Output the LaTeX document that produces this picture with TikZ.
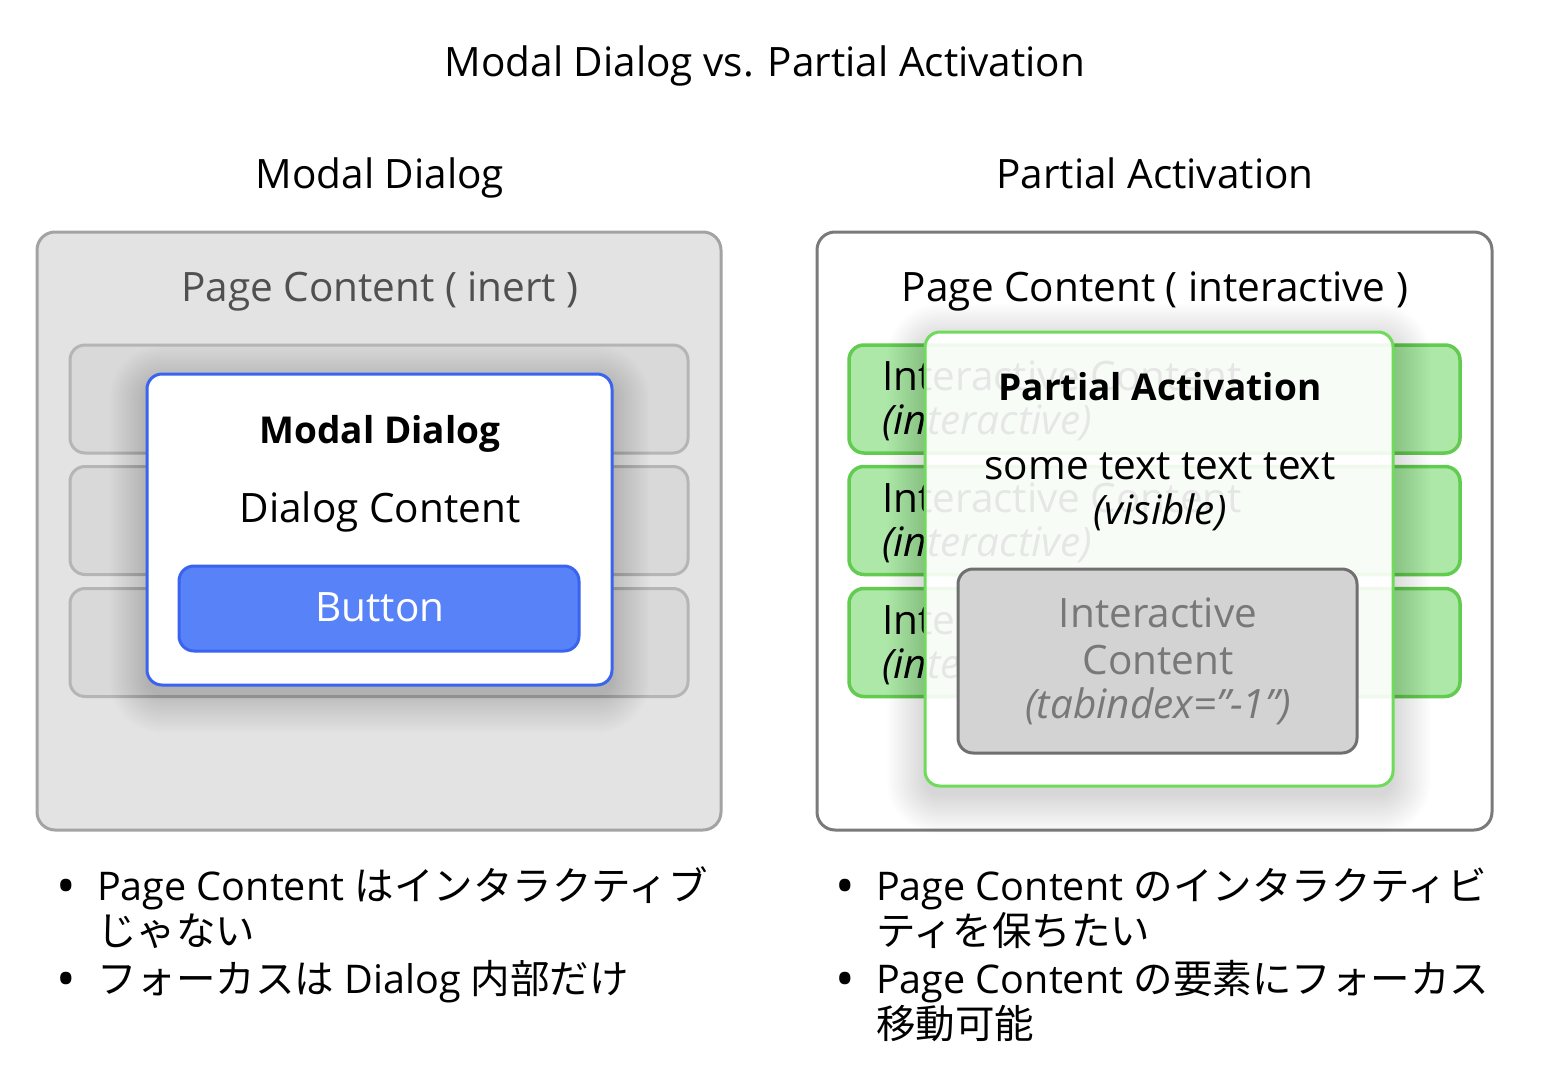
\documentclass[tikz,border=0pt]{standalone}
\usepackage{fontspec}
\setmainfont{Open Sans}
\newfontfamily\jp{Noto Sans CJK JP}
\definecolor{inertfill}{HTML}{E3E3E3}
\definecolor{inertline}{HTML}{A3A3A3}
\definecolor{rowfill}{HTML}{D9D9D9}
\definecolor{rowline}{HTML}{B5B5B5}
\definecolor{inerttext}{HTML}{505050}
\definecolor{blueline}{HTML}{3A63F0}
\definecolor{bluefill}{HTML}{5882F8}
\definecolor{outerline}{HTML}{7A7A7A}
\definecolor{greenfill}{HTML}{AEE8A8}
\definecolor{greenline}{HTML}{62CC50}
\definecolor{overline}{HTML}{6EDC5A}
\definecolor{grayfill}{HTML}{D3D3D3}
\definecolor{grayline}{HTML}{6F6F6F}
\definecolor{graytext}{HTML}{787878}
% soft drop shadow: stacked translucent rounded rectangles
\newcommand{\mysoftshadow}[4]{%
  \foreach \k in {0,...,19} {
    \pgfmathsetmacro{\rr}{15+2*\k}
    \fill[black, opacity=0.0095, rounded corners=\rr pt]
      ({#1-2*\k},{#2-2*\k+10}) rectangle ({#3+2*\k},{#4+2*\k+10});
  }%
}
\begin{document}
\begin{tikzpicture}[x=1pt,y=-1pt,
  txt/.style={inner sep=0pt, anchor=base, font=\fontsize{40.5}{46}\selectfont},
  btxt/.style={txt, font=\fontsize{37}{46}\selectfont\bfseries},
  ltxt/.style={txt, anchor=base west},
  jtxt/.style={inner sep=0pt, anchor=base west, font=\fontsize{39.5}{46}\selectfont},
  bul/.style={inner sep=0pt, anchor=base, font=\fontsize{52}{46}\selectfont},
  panel/.style={rectangle, rounded corners=18pt, line width=3pt, inner sep=0pt},
  rowbox/.style={rectangle, rounded corners=15pt, line width=3pt, inner sep=0pt, minimum height=108pt}
]
\useasboundingbox (0,0) rectangle (1544,1086);

% Titles
\node[txt] (title) at (765,77) {Modal Dialog vs. Partial Activation};
\node[txt] (subl) at (380,189) {Modal Dialog};
\node[txt] (subr) at (1155,189) {Partial Activation};

% ---------- Left panel ----------
\node[panel, fill=inertfill, draw=inertline, minimum width=684pt, minimum height=598pt] (lout) at (379,531) {};
\node[txt, text=inerttext] (lpc) at (380,301) {Page Content ( inert )};
\node[rowbox, fill=rowfill, draw=rowline, minimum width=618pt] (lr1) at (379,399) {};
\node[rowbox, fill=rowfill, draw=rowline, minimum width=618pt] (lr2) at (379,520.5) {};
\node[rowbox, fill=rowfill, draw=rowline, minimum width=618pt] (lr3) at (379,642.5) {};
\mysoftshadow{147}{374}{612}{685}
\node[rowbox, fill=white, draw=blueline, minimum width=465pt, minimum height=311pt] (dlg) at (379.5,529.5) {};
\node[btxt] (dlgt) at (380,443) {Modal Dialog};
\node[txt] (dlgc) at (380,522) {Dialog Content};
\node[rowbox, fill=bluefill, draw=blueline, minimum width=400pt, minimum height=85pt] (btn) at (379,608.5) {};
\node[txt, text=white] (btnt) at (380,621) {Button};

% ---------- Right panel ----------
\node[panel, fill=white, draw=outerline, minimum width=675pt, minimum height=598pt] (rout) at (1154.5,531) {};
\node[txt] (rpc) at (1155,301) {Page Content ( interactive )};
\node[rowbox, fill=greenfill, draw=greenline, line width=3.5pt, minimum width=611pt] (rr1) at (1154.5,399) {};
\node[rowbox, fill=greenfill, draw=greenline, line width=3.5pt, minimum width=611pt] (rr2) at (1154.5,520.5) {};
\node[rowbox, fill=greenfill, draw=greenline, line width=3.5pt, minimum width=611pt] (rr3) at (1154.5,642.5) {};
\node[ltxt] (r1a) at (882,390) {Interactive Content};
\node[ltxt] (r1b) at (882,434) {\itshape (interactive)};
\node[ltxt] (r2a) at (882,512) {Interactive Content};
\node[ltxt] (r2b) at (882,556) {\itshape (interactive)};
\node[ltxt] (r3a) at (882,634) {Interactive Content};
\node[ltxt] (r3b) at (882,678) {\itshape (interactive)};
% shadow of the partial-activation layer, kept outside its translucent body
\begin{scope}[even odd rule, rounded corners=15pt]
  \clip (800,300) rectangle (1520,850) (925,332) rectangle (1393,786);
  \mysoftshadow{925}{332}{1393}{786}
\end{scope}
\node[rowbox, fill=white, fill opacity=0.9, draw=overline, minimum width=468pt, minimum height=454pt] (pa) at (1159,559) {};
\node[btxt] (pat) at (1160,400) {Partial Activation};
\node[txt] (pas) at (1160,479) {some text text text};
\node[txt] (pav) at (1160,524) {\itshape (visible)};
\node[rowbox, fill=grayfill, draw=grayline, minimum width=399pt, minimum height=184pt] (gb) at (1157.5,661) {};
\node[txt, text=graytext] (gb1) at (1158,627) {Interactive};
\node[txt, text=graytext] (gb2) at (1158,674) {Content};
\node[txt, text=graytext] (gb3) at (1158,718) {\itshape (tabindex=\symbol{34}-1\symbol{34})};

% ---------- Bullets ----------
\node[bul] (lb1) at (66,904) {•};
\node[jtxt] (lt1) at (97,900) {Page Content {\jp はインタラクティブ}};
\node[jtxt] (lt1b) at (97,945) {\jp じゃない};
\node[bul] (lb2) at (66,997) {•};
\node[jtxt] (lt2) at (97,993) {{\jp フォーカスは} Dialog {\jp 内部だけ}};

\node[bul] (rb1) at (845,904) {•};
\node[jtxt] (rt1) at (876,900) {Page Content {\jp のインタラクティビ}};
\node[jtxt] (rt1b) at (876,945) {\jp ティを保ちたい};
\node[bul] (rb2) at (845,997) {•};
\node[jtxt] (rt2) at (876,993) {Page Content {\jp の要素にフォーカス}};
\node[jtxt] (rt2b) at (876,1038) {\jp 移動可能};
\end{tikzpicture}
\end{document}
